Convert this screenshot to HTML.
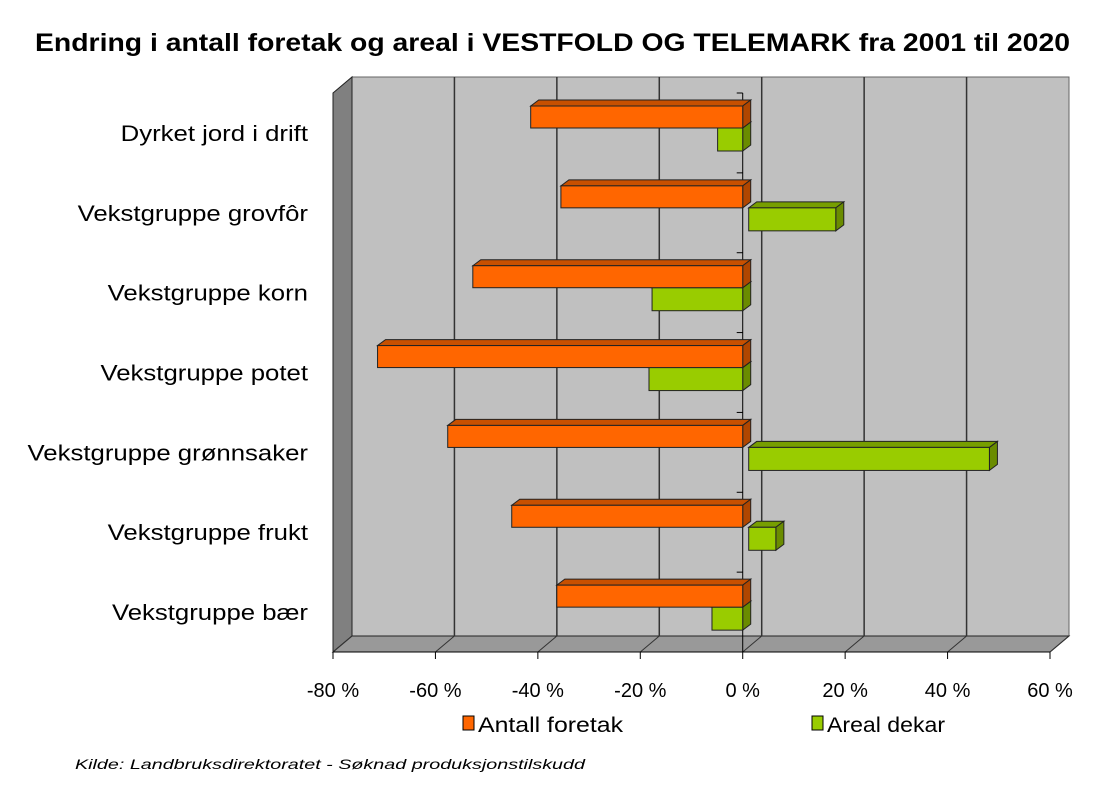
<!DOCTYPE html>
<html><head><meta charset="utf-8"><style>
body{margin:0;background:#fff;width:1120px;height:793px;overflow:hidden}
text{font-family:"Liberation Sans",sans-serif}
</style></head><body>
<svg id="c" width="1120" height="793" xmlns="http://www.w3.org/2000/svg">
<text x="35" y="51" font-size="25" font-weight="bold" textLength="1035" lengthAdjust="spacingAndGlyphs">Endring i antall foretak og areal i VESTFOLD OG TELEMARK fra 2001 til 2020</text>
<g id="plot"></g>
<g>
<rect x="463" y="716" width="11" height="14" fill="#FF6600" stroke="#000"/>
<text x="478" y="732" font-size="21" textLength="145" lengthAdjust="spacingAndGlyphs">Antall foretak</text>
<rect x="812" y="716" width="11" height="14" fill="#99CC00" stroke="#000"/>
<text x="827" y="732" font-size="21" textLength="118" lengthAdjust="spacingAndGlyphs">Areal dekar</text>
</g>
<text x="75" y="769" font-size="14" font-style="italic" textLength="510" lengthAdjust="spacingAndGlyphs">Kilde: Landbruksdirektoratet - Søknad produksjonstilskudd</text>
</svg>
<script>
const categories=["Dyrket jord i drift","Vekstgruppe grovfôr","Vekstgruppe korn","Vekstgruppe potet","Vekstgruppe grønnsaker","Vekstgruppe frukt","Vekstgruppe bær"];
const antallForetak=[-41.4,-35.5,-52.7,-71.3,-57.6,-45.1,-36.3];
const arealDekar=[-4.9,17,-17.7,-18.3,47,5.3,-6];
const tickValues=[-80,-60,-40,-20,0,20,40,60];
const tickLabels=["-80 %","-60 %","-40 %","-20 %","0 %","20 %","40 %","60 %"];

const NS="http://www.w3.org/2000/svg";
const g=document.getElementById('plot');
const X0=333,X1=1050,VMIN=-80,VMAX=60,TOP=93,BOT=652,DX=19,DY=16;
const x=v=>X0+(v-VMIN)/(VMAX-VMIN)*(X1-X0);
const band=(BOT-TOP)/categories.length;
function el(t,a,p){const e=document.createElementNS(NS,t);for(const k in a)e.setAttribute(k,a[k]);(p||g).appendChild(e);return e;}
function poly(pts,fill){return el('polygon',{points:pts.map(p=>p.join(',')).join(' '),fill:fill,stroke:'#222','stroke-width':1});}
function widen(t,f){const L=t.getComputedTextLength();t.setAttribute('textLength',L*f);t.setAttribute('lengthAdjust','spacingAndGlyphs');}
let w=el('rect',{x:X0+DX,y:TOP-DY,width:X1-X0,height:BOT-TOP,fill:'#C0C0C0',stroke:'#666'});

let lw=poly([[X0,TOP],[X0+DX,TOP-DY],[X0+DX,BOT-DY],[X0,BOT]],'#808080');

let fl=poly([[X0,BOT],[X0+DX,BOT-DY],[X1+DX,BOT-DY],[X1,BOT]],'#999999');

tickValues.forEach((v,i)=>{
  if(i>0&&i<tickValues.length-1){
    const gl=el('line',{x1:x(v)+DX,y1:TOP-DY,x2:x(v)+DX,y2:BOT-DY,stroke:'#333','stroke-width':1.5});
    
  }
  const fd=el('line',{x1:x(v),y1:BOT,x2:x(v)+DX,y2:BOT-DY,stroke:'#333'});
  
  const tk=el('line',{x1:x(v),y1:BOT,x2:x(v),y2:BOT+7,stroke:'#000'});
  
  const t=el('text',{x:x(v),y:BOT+45,'font-size':20,'text-anchor':'middle'});
  
  t.textContent=tickLabels[i];
});
const xa=el('line',{x1:X0,y1:BOT,x2:X1,y2:BOT,stroke:'#000'});

const za=el('line',{x1:x(0),y1:TOP,x2:x(0),y2:BOT,stroke:'#000'});

function bar(v,y,h,fill,top,side,name){
  const s=v>=0?6:0;
  const a=Math.min(x(0),x(v))+s,b=Math.max(x(0),x(v))+s,d=8,e=6;
  const grp=el('g',{});
  
  el('polygon',{points:`${a},${y} ${a+d},${y-e} ${b+d},${y-e} ${b},${y}`,fill:top,stroke:'#222'},grp);
  el('polygon',{points:`${b},${y} ${b+d},${y-e} ${b+d},${y+h-e} ${b},${y+h}`,fill:side,stroke:'#222'},grp);
  el('rect',{x:a,y:y,width:b-a,height:h,fill:fill,stroke:'#222'},grp);
}
categories.forEach((c,i)=>{
  const y0=TOP+i*band;
  const tk=el('line',{x1:x(0)-6,y1:y0,x2:x(0),y2:y0,stroke:'#000'});
  
  const t=el('text',{x:308,y:y0+band/2+8,'font-size':22,'text-anchor':'end'});
  
  t.textContent=c;
  widen(t,1.17);
  bar(arealDekar[i],y0+35,23,'#99CC00','#779E00','#6A8C00','bar-areal-'+i);
  bar(antallForetak[i],y0+13,22,'#FF6600','#C85000','#B04600','bar-antall-'+i);
});
</script>
</body></html>
